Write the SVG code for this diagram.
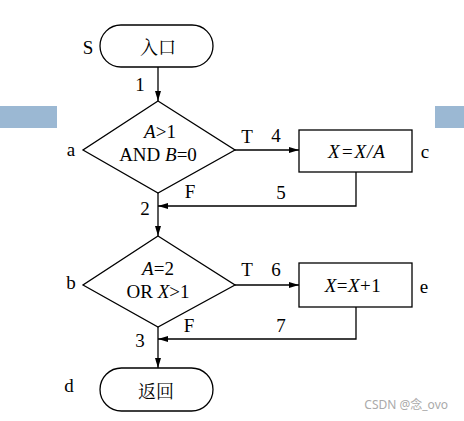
<svg xmlns="http://www.w3.org/2000/svg" width="464" height="421" viewBox="0 0 464 421">
<style>
.s{fill:#fff;stroke:#000;stroke-width:1.3}
.t{font-family:"Liberation Serif","Noto Sans CJK SC",serif;font-size:19px;fill:#000;text-anchor:middle;dominant-baseline:central}
.cn{font-family:"Noto Serif CJK SC","Noto Sans CJK SC",serif;font-size:18px;fill:#000;text-anchor:middle;dominant-baseline:central}
.i{font-style:italic}
.c{fill:none;stroke:#000;stroke-width:1.3}
</style>
<defs>
<marker id="ah" markerWidth="10" markerHeight="6" refX="10" refY="3" orient="auto" markerUnits="userSpaceOnUse">
<path d="M0,0 L10,3 L0,6 Z" fill="#000"/>
</marker>
</defs>
<rect x="0" y="106" width="57" height="22" fill="#9BB8D3"/>
<rect x="435" y="106" width="29" height="22" fill="#9BB8D3"/>
<g id="connectors">
<line class="c" x1="158" y1="67" x2="158" y2="101" marker-end="url(#ah)"/>
<line class="c" x1="235" y1="150" x2="299" y2="150" marker-end="url(#ah)"/>
<polyline class="c" points="356,172 356,206 158,206" marker-end="url(#ah)"/>
<line class="c" x1="158" y1="193" x2="158" y2="236" marker-end="url(#ah)"/>
<line class="c" x1="235" y1="285" x2="299" y2="285" marker-end="url(#ah)"/>
<polyline class="c" points="356,307 356,339 158,339" marker-end="url(#ah)"/>
<line class="c" x1="158" y1="327" x2="158" y2="368" marker-end="url(#ah)"/>
<text class="t" x="140" y="84">1</text>
<text class="t" x="247" y="136">T</text>
<text class="t" x="276" y="135">4</text>
<text class="t" x="190" y="191">F</text>
<text class="t" x="281" y="192">5</text>
<text class="t" x="145" y="208">2</text>
<text class="t" x="247" y="269">T</text>
<text class="t" x="276" y="269">6</text>
<text class="t" x="189" y="325">F</text>
<text class="t" x="281" y="325">7</text>
<text class="t" x="140" y="340">3</text>
</g>
<g id="S">
<rect class="s" x="100" y="25" width="113" height="42" rx="21"/>
<text class="cn" x="158" y="46">入口</text>
<text class="t" x="88" y="47">S</text>
</g>
<g id="a">
<polygon class="s" points="158,101 235,150 158,193 83,150"/>
<text class="t" x="160" y="131"><tspan class="i">A</tspan>&gt;1</text>
<text class="t" x="158" y="154">AND <tspan class="i">B</tspan>=0</text>
<text class="t" x="71" y="149">a</text>
</g>
<g id="c">
<rect class="s" x="299" y="130" width="113" height="42"/>
<text class="t i" x="357" y="151" letter-spacing="1">X=X/A</text>
<text class="t" x="425" y="151">c</text>
</g>
<g id="b">
<polygon class="s" points="158,236 235,285 158,327 83,285"/>
<text class="t" x="158" y="268"><tspan class="i">A</tspan>=2</text>
<text class="t" x="158" y="291">OR <tspan class="i">X</tspan>&gt;1</text>
<text class="t" x="71" y="282">b</text>
</g>
<g id="e">
<rect class="s" x="299" y="263" width="113" height="44"/>
<text class="t" x="353" y="285" letter-spacing="0.5"><tspan class="i">X</tspan>=<tspan class="i">X</tspan>+1</text>
<text class="t" x="424" y="286">e</text>
</g>
<g id="d">
<rect class="s" x="100" y="368" width="113" height="43" rx="21.5"/>
<text class="cn" x="156" y="390">返回</text>
<text class="t" x="69" y="385">d</text>
</g>
<text x="448" y="409" font-family="'Noto Sans','Noto Sans CJK SC',sans-serif" font-size="12" fill="#aaa" text-anchor="end">CSDN @念_ovo</text>
</svg>
